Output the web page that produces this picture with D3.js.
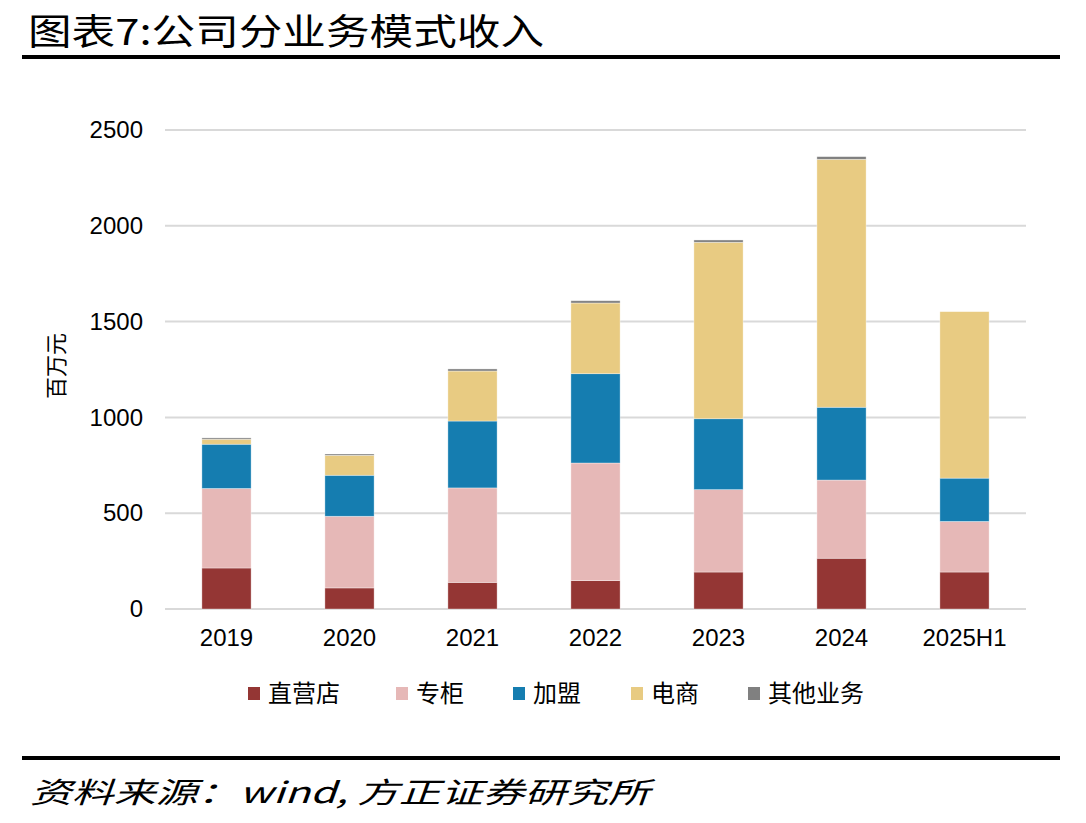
<!DOCTYPE html>
<html>
  <head>
    <meta charset="utf-8">
    <title>公司分业务模式收入</title>
    <script src="https://d3js.org/d3.v7.min.js"></script>
    <style>
      body { margin: 0; background: #fff; }
    </style>
  </head>
  <body>
    <script>
        // Data (百万元)
        var years = ["2019", "2020", "2021", "2022", "2023", "2024", "2025H1"];
        var seriesNames = ["直营店", "专柜", "加盟", "电商", "其他业务"];
        var zhiying = [214, 110, 139, 148, 193, 265, 193];
        var zhuangui = [415, 374, 493, 614, 430, 408, 264];
        var jiameng = [231, 214, 349, 466, 370, 380, 226];
        var dianshang = [26, 104, 261, 369, 921, 1294, 869];
        var qita = [7, 7, 11, 12, 12, 14, 0];
        var yTicks = [0, 500, 1000, 1500, 2000, 2500];
        var colors = ["#943634", "#e6b8b7", "#157db0", "#e8cb82", "#808080"];

        var rows = years.map(function(y, i) {
          return {year: y, "直营店": zhiying[i], "专柜": zhuangui[i], "加盟": jiameng[i], "电商": dianshang[i], "其他业务": qita[i]};
        });

        var W = 1086, H = 823;
        var svg = d3.select("body").append("svg")
            .attr("width", W)
            .attr("height", H);

        var cjk = "'Noto Sans CJK SC', sans-serif";
        var latin = "'Liberation Sans', Arial, sans-serif";

        // title + rules
        svg.append("text")
            .attr("x", 28)
            .attr("y", 45)
            .attr("font-family", cjk)
            .attr("font-size", "36px")
            .attr("textLength", 516)
            .attr("lengthAdjust", "spacingAndGlyphs")
            .text("图表7:公司分业务模式收入");
        svg.append("rect").attr("x", 22).attr("y", 55).attr("width", 1038).attr("height", 4).attr("fill", "#000");
        svg.append("rect").attr("x", 22).attr("y", 756).attr("width", 1038).attr("height", 4).attr("fill", "#000");

        svg.append("text")
            .attr("x", 30)
            .attr("y", 803)
            .attr("font-family", cjk)
            .attr("font-style", "italic")
            .attr("font-size", "29px")
            .attr("textLength", 620)
            .attr("lengthAdjust", "spacingAndGlyphs")
            .text("资料来源：wind, 方正证券研究所");

        var x = d3.scaleBand()
            .domain(years)
            .range([165, 1026])
            .paddingInner(0.6)
            .paddingOuter(0.3);

        var y = d3.scaleLinear()
            .domain([0, 2500])
            .range([609, 130]);

        // gridlines
        svg.append("g")
          .selectAll("line")
          .data(yTicks)
          .enter()
          .append("line")
            .attr("x1", 165)
            .attr("x2", 1026)
            .attr("y1", function(d) { return y(d); })
            .attr("y2", function(d) { return y(d); })
            .attr("stroke", "#d9d9d9")
            .attr("stroke-width", 2);

        var yAxis = svg.append("g")
            .attr("transform", "translate(165,0)")
            .call(d3.axisLeft(y).tickValues(yTicks).tickFormat(d3.format("d")).tickSize(0).tickPadding(22));
        yAxis.select(".domain").remove();
        yAxis.selectAll("text")
            .attr("font-family", latin)
            .attr("font-size", "24px")
            .attr("fill", "#000");

        var xAxis = svg.append("g")
            .attr("transform", "translate(0,609)")
            .call(d3.axisBottom(x).tickSize(0).tickPadding(20));
        xAxis.select(".domain").remove();
        xAxis.selectAll("text")
            .attr("font-family", latin)
            .attr("font-size", "24px")
            .attr("fill", "#000");

        svg.append("text")
            .attr("transform", "translate(64,366) rotate(-90)")
            .attr("text-anchor", "middle")
            .attr("font-family", cjk)
            .attr("font-size", "22px")
            .text("百万元");

        var stacked = d3.stack().keys(seriesNames)(rows);

        svg.append("g")
          .selectAll("g")
          .data(stacked)
          .enter()
          .append("g")
            .attr("fill", function(d, i) { return colors[i]; })
          .selectAll("rect")
          .data(function(d) { return d; })
          .enter()
          .append("rect")
            .attr("x", function(d) { return x(d.data.year); })
            .attr("width", x.bandwidth())
            .attr("y", function(d) { return y(d[1]); })
            .attr("height", function(d) { return Math.max(0, y(d[0]) - y(d[1])); })
            .attr("stroke", "rgba(255,255,255,0.5)")
            .attr("stroke-width", 0.7);

        // legend
        var legendX = [248, 396, 513, 631, 748];
        var legend = svg.append("g")
          .selectAll("g")
          .data(seriesNames)
          .enter()
          .append("g")
            .attr("transform", function(d, i) { return "translate(" + legendX[i] + ",687)"; });
        legend.append("rect")
            .attr("width", 12)
            .attr("height", 13)
            .attr("fill", function(d, i) { return colors[i]; });
        legend.append("text")
            .attr("x", 20)
            .attr("y", 15)
            .attr("font-family", cjk)
            .attr("font-size", "24px")
            .text(function(d) { return d; });
    </script>
  </body>
</html>
